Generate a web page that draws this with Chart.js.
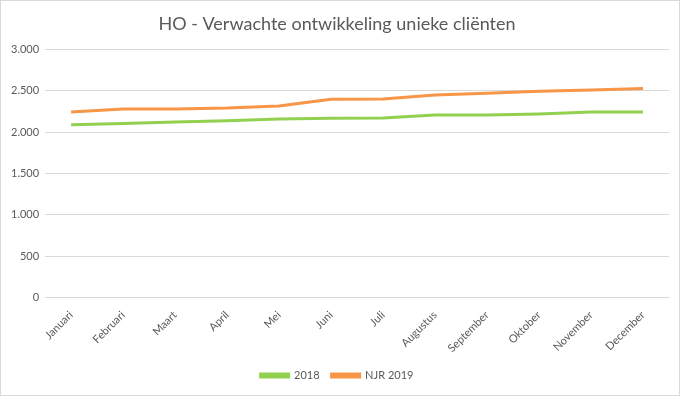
<!DOCTYPE html>
<html>
<head>
<meta charset="utf-8">
<script src="https://cdn.jsdelivr.net/npm/chart.js@4/dist/chart.umd.min.js"></script>
<style>
  html, body { margin: 0; padding: 0; background: #fff; }
  #wrap { position: relative; width: 678px; height: 394px; border: 1px solid #d9d9d9; }
</style>
</head>
<body>
<div id="wrap"><canvas id="chart"></canvas></div>
<script>
var months = ['Januari', 'Februari', 'Maart', 'April', 'Mei', 'Juni', 'Juli', 'Augustus', 'September', 'Oktober', 'November', 'December'];
var values2018 = [2090, 2105, 2125, 2140, 2160, 2170, 2172, 2208, 2210, 2222, 2245, 2245];
var valuesNjr2019 = [2245, 2280, 2282, 2292, 2318, 2400, 2402, 2450, 2472, 2495, 2510, 2530];

var fontFamily = 'Lato, "Open Sans", sans-serif';

var ctx = document.getElementById('chart').getContext('2d');
var myChart = new Chart(ctx, {
  type: 'line',
  data: {
    labels: months,
    datasets: [{
      label: '2018',
      data: values2018,
      borderColor: '#92d050',
      backgroundColor: '#92d050',
      borderWidth: 3,
      pointRadius: 0,
      tension: 0
    }, {
      label: 'NJR 2019',
      data: valuesNjr2019,
      borderColor: '#f79646',
      backgroundColor: '#f79646',
      borderWidth: 3,
      pointRadius: 0,
      tension: 0
    }]
  },
  options: {
    responsive: true,
    maintainAspectRatio: false,
    animation: false,
    layout: { padding: { left: 4, right: 10, top: 4, bottom: 4 } },
    plugins: {
      title: {
        display: true,
        text: 'HO - Verwachte ontwikkeling unieke cliënten',
        color: '#595959',
        font: { family: fontFamily, size: 18, weight: 'normal' },
        padding: { top: 8, bottom: 15 }
      },
      legend: {
        position: 'bottom',
        labels: {
          color: '#595959',
          font: { family: fontFamily, size: 11 },
          boxWidth: 28,
          boxHeight: 3,
          padding: 12
        }
      },
      tooltip: { enabled: false }
    },
    scales: {
      x: {
        offset: true,
        grid: { display: false },
        border: { color: '#d9d9d9' },
        ticks: {
          color: '#595959',
          font: { family: fontFamily, size: 11 },
          maxRotation: 45,
          minRotation: 45,
          autoSkip: false
        }
      },
      y: {
        min: 0,
        max: 3000,
        grid: { color: '#d9d9d9', drawTicks: false },
        border: { display: false },
        ticks: {
          stepSize: 500,
          color: '#595959',
          padding: 6,
          font: { family: fontFamily, size: 11 },
          callback: function (v) { return v.toLocaleString('nl-NL'); }
        }
      }
    }
  }
});
</script>
</body>
</html>
